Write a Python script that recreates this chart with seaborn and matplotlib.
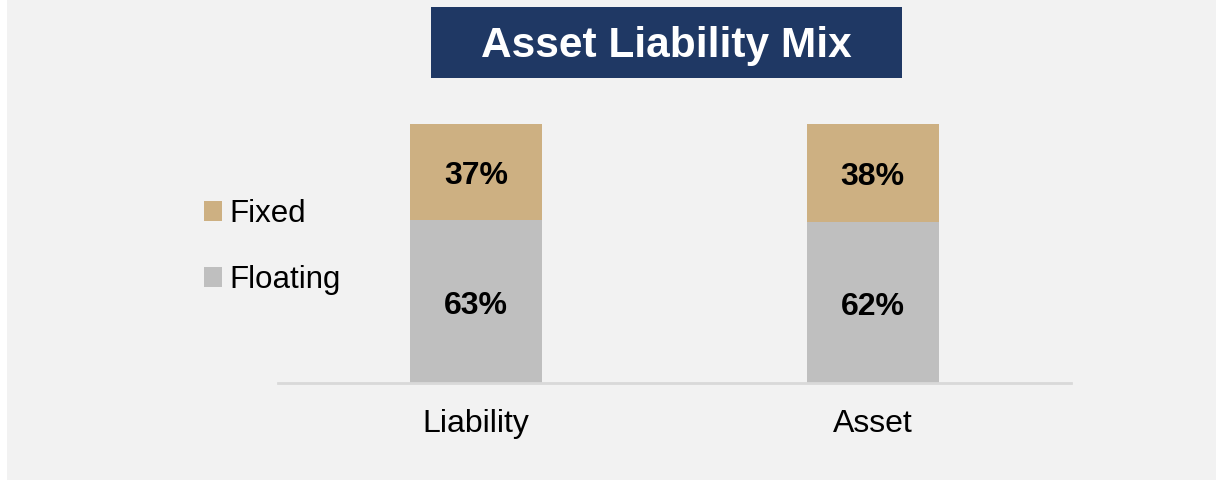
import pandas as pd
import seaborn as sns
import matplotlib.pyplot as plt
from matplotlib.patches import Patch, Rectangle

# Data
categories = ["Liability", "Asset"]
floating = [63, 62]
fixed = [37, 38]

BG = "#f2f2f2"
TAN = "#cdb082"
GRAY = "#bfbfbf"
NAVY = "#1f3864"

df = pd.DataFrame({"category": categories, "floating": floating, "fixed": fixed})
df["total"] = df["floating"] + df["fixed"]

sns.set_style("white")
plt.rcParams["font.family"] = ["Liberation Sans", "DejaVu Sans"]
plt.rcParams["text.color"] = "black"

fig = plt.figure(figsize=(12.16, 4.8), dpi=100, facecolor=BG)
ax = fig.add_axes([278 / 1216, 97 / 480, 793 / 1216, 259 / 480])
ax.set_facecolor(BG)

# stacked bars: total first (fixed colour), floating on top of it
sns.barplot(data=df, x="category", y="total", color=TAN, width=0.333,
            saturation=1, linewidth=0, ax=ax)
sns.barplot(data=df, x="category", y="floating", color=GRAY, width=0.333,
            saturation=1, linewidth=0, ax=ax)

# Segment labels
for i, row in df.iterrows():
    ax.annotate(f"{row['floating']}%", (i, row["floating"] / 2), xytext=(0, -3),
                textcoords="offset points", ha="center", va="center",
                fontsize=23, fontweight="bold", color="black")
    ax.annotate(f"{row['fixed']}%", (i, row["floating"] + row["fixed"] / 2),
                xytext=(0, -3), textcoords="offset points", ha="center",
                va="center", fontsize=23, fontweight="bold", color="black")

ax.set_xlim(-0.5, 1.5)
ax.set_ylim(0, 100)
ax.set_xlabel("")
ax.set_ylabel("")
ax.set_yticks([])
ax.tick_params(axis="x", length=0, pad=19, labelsize=23, labelcolor="black")
for s in ["top", "right", "left"]:
    ax.spines[s].set_visible(False)
ax.spines["bottom"].set_color("#d9d9d9")
ax.spines["bottom"].set_linewidth(2)

# Legend
handles = [Patch(facecolor=TAN, edgecolor="none", label="Fixed"),
           Patch(facecolor=GRAY, edgecolor="none", label="Floating")]
leg = fig.legend(handles=handles, loc="center left",
                 bbox_to_anchor=(188 / 1216, 1 - 247 / 480),
                 frameon=False, fontsize=22.5, handlelength=0.58, handleheight=0.58,
                 handletextpad=0.25, labelspacing=1.15, borderpad=0)
for t in leg.get_texts():
    t.set_color("black")

# Title box
fig.patches.append(Rectangle((431 / 1216, 1 - 78 / 480), 471 / 1216, 71 / 480,
                             transform=fig.transFigure, facecolor=NAVY,
                             edgecolor="none", zorder=0))
fig.text(666 / 1216, 1 - 46 / 480, "Asset Liability Mix", ha="center", va="center",
         fontsize=30.5, fontweight="bold", color="white")

# thin white strip on the left edge
fig.patches.append(Rectangle((0, 0), 7 / 1216, 1, transform=fig.transFigure,
                             facecolor="white", edgecolor="none", zorder=0))

fig.savefig("out.png", dpi=100, facecolor=BG)
